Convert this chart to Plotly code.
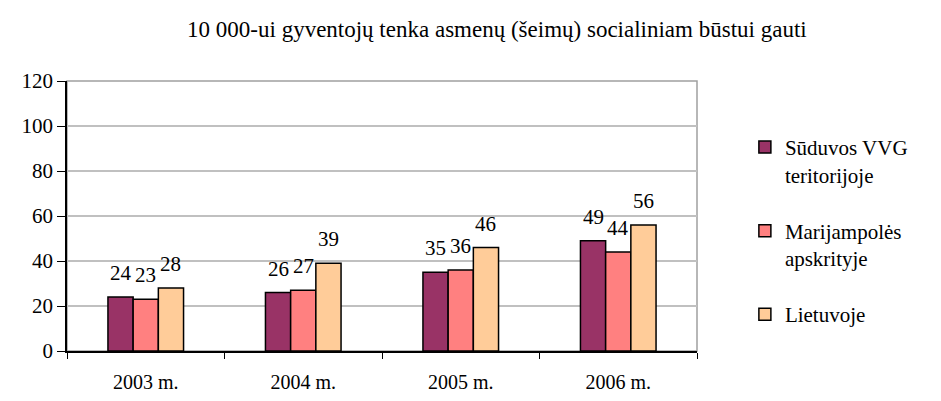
import plotly.graph_objects as go

categories = ["2003 m.", "2004 m.", "2005 m.", "2006 m."]
series_names = ["Sūduvos VVG<br>teritorijoje", "Marijampolės<br>apskrityje", "Lietuvoje"]
suduvos = [24, 26, 35, 49]
marijampoles = [23, 27, 36, 44]
lietuvoje = [28, 39, 46, 56]
colors = ["#993366", "#FF8080", "#FFCC99"]
title_text = "10 000-ui gyventojų tenka asmenų (šeimų) socialiniam būstui gauti"
y_ticks = [0, 20, 40, 60, 80, 100, 120]

font_family = "Liberation Serif"

# layout constants
plot_w_px = 630
bargap = 0.52
bar_px = plot_w_px / len(categories) * (1 - bargap) / 3

fig = go.Figure()
all_series = [suduvos, marijampoles, lietuvoje]
for k, (name, vals, col) in enumerate(zip(series_names, all_series, colors)):
    fig.add_trace(go.Bar(
        x=categories, y=vals, name=name, legendgroup=f"g{k}",
        marker=dict(color=col, line=dict(color="black", width=1.5)),
        cliponaxis=False,
    ))

annotations = []
for i, vals in enumerate(all_series):
    for cat, v in zip(categories, vals):
        annotations.append(dict(
            x=cat, y=v, xref="x", yref="y", text=str(v), showarrow=False,
            xshift=(i - 1) * bar_px, yshift=24, yanchor="middle", xanchor="center",
            font=dict(family=font_family, size=21, color="black"),
        ))

fig.update_layout(
    width=933, height=393,
    margin=dict(l=59, r=244, t=73, b=50, autoexpand=False),
    paper_bgcolor="white", plot_bgcolor="white",
    barmode="group", bargap=bargap, bargroupgap=0,
    title=dict(text=title_text, x=0.524, xanchor="center", y=0.947, yanchor="middle",
               font=dict(family=font_family, size=23, color="black")),
    font=dict(family=font_family, color="black"),
    legend=dict(x=1.076, xanchor="left", y=0.83, yanchor="top", valign="top",
                font=dict(family=font_family, size=21, color="black"),
                tracegroupgap=26, itemwidth=30, bgcolor="rgba(0,0,0,0)"),
    showlegend=True,
    annotations=annotations,
)
fig.update_xaxes(
    type="category", tickson="boundaries", ticks="outside", ticklen=6, tickcolor="black",
    showline=True, linecolor="black", linewidth=1.5, showgrid=False,
    ticklabelstandoff=12, automargin=False,
    tickfont=dict(family=font_family, size=20, color="black"),
)
fig.update_yaxes(
    range=[0, 120], tickvals=y_ticks, ticks="outside", ticklen=8, tickcolor="black",
    showline=True, linecolor="black", linewidth=1.5, automargin=False,
    showgrid=True, gridcolor="#C0C0C0", gridwidth=1.5,
    tickfont=dict(family=font_family, size=21, color="black"), zeroline=False,
)
fig.add_shape(type="rect", xref="paper", yref="paper", x0=0, x1=1, y0=0, y1=1,
              line=dict(color="#A0A0A0", width=1.5), layer="below")
fig.write_html("out.html")
